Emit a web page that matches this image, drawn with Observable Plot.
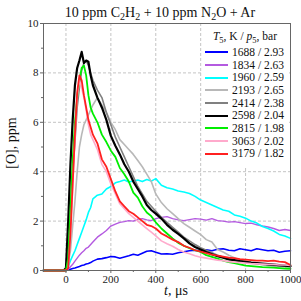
<!DOCTYPE html>
<html><head><meta charset="utf-8">
<script src="https://cdn.jsdelivr.net/npm/d3@7"></script>
<script src="https://cdn.jsdelivr.net/npm/@observablehq/plot@0.6"></script>
<style>
body{margin:0;background:#fff;}
#wrap{position:relative;width:301px;height:301px;font-family:"Liberation Serif","Times New Roman",serif;color:#111;overflow:hidden;}
#wrap svg{position:absolute;left:0;top:0;}
.ov{position:absolute;white-space:nowrap;}
.sb{font-size:10px;position:relative;top:3px;}
#title{left:40px;width:240px;top:6px;text-align:center;font-size:14px;line-height:14px;}
#ylab{left:12px;top:143px;font-size:14px;line-height:14px;transform:translate(-50%,-50%) rotate(-90deg);}
#xlab{left:176px;top:284px;font-size:14px;line-height:14px;transform:translateX(-50%);}
#leg{left:202px;top:24px;width:87px;height:142px;background:#fff;}
.lh{position:absolute;right:12px;font-size:11.5px;line-height:12px;}
.lr{position:absolute;left:3px;height:12px;font-size:11.5px;line-height:12px;}
.sw{display:inline-block;width:23px;height:0;vertical-align:middle;margin-right:4px;position:relative;top:-1px;}
</style></head>
<body><div id="wrap"></div>
<script>
// ---- data ----
const times = [-100,-50,-10,0,10,20,30,40,50,60,70,80,90,100,110,120,140,160,180,200,220,240,260,280,300,320,340,360,380,400,425,450,475,500,525,550,575,600,625,650,675,700,725,750,775,800,825,850,875,900,925,950,975,1000];
const seriesLabels = ["1688 / 2.93","1834 / 2.63","1960 / 2.59","2193 / 2.65","2414 / 2.38","2598 / 2.04","2815 / 1.98","3063 / 2.02","3179 / 1.82"];
const s1688 = [0,0,0,0,0.02,0.05,0.08,0.1,0.13,0.16,0.2,0.22,0.26,0.28,0.32,0.38,0.46,0.48,0.52,0.57,0.55,0.5,0.55,0.6,0.66,0.62,0.7,0.78,0.8,0.74,0.67,0.68,0.66,0.72,0.76,0.8,0.82,0.8,0.84,0.8,0.86,0.88,0.82,0.8,0.88,0.84,0.8,0.88,0.84,0.8,0.82,0.74,0.78,0.8];
const s1834 = [0,0,0,0,0.05,0.15,0.25,0.38,0.5,0.62,0.72,0.8,0.9,0.95,1.05,1.15,1.35,1.48,1.62,1.8,1.88,1.95,1.98,2.02,2.0,2.08,2.1,2.05,2.02,2.1,2.15,2.18,2.1,2.05,2.02,2.06,2.1,2.08,2.04,2.1,2.02,2.0,1.96,1.98,1.94,1.9,1.92,1.85,1.8,1.76,1.7,1.62,1.66,1.62];
const s1960 = [0,0,0,0,0.15,0.4,0.6,0.8,1.05,1.3,1.55,1.8,2.05,2.35,2.55,2.9,3.05,3.1,3.3,3.4,3.55,3.6,3.66,3.58,3.62,3.66,3.6,3.68,3.62,3.72,3.45,3.35,3.3,3.22,3.18,3.12,3.0,2.85,2.75,2.65,2.55,2.45,2.4,2.25,2.2,2.12,2.0,1.92,1.78,1.7,1.6,1.46,1.4,1.3];
const s2193 = [0,0,0,0,0.3,0.8,1.8,2.8,4.0,5.0,5.5,5.9,6.1,6.3,6.5,6.7,7.0,6.7,6.4,6.0,5.7,5.3,5.1,4.9,4.7,4.45,4.2,3.9,3.6,3.1,2.75,2.5,2.3,2.1,1.9,1.75,1.6,1.45,1.25,1.15,0.85,0.75,0.62,0.52,0.42,0.38,0.32,0.28,0.22,0.2,0.18,0.16,0.15,0.14];
const s2414 = [0,0,0,0,0.8,2.5,4.0,5.2,6.6,7.4,8.1,8.4,8.5,8.3,8.0,7.7,7.3,7.0,6.4,5.9,5.4,5.0,4.6,4.2,3.8,3.4,3.1,2.8,2.6,2.4,2.15,1.95,1.75,1.55,1.35,1.2,1.05,0.92,0.82,0.72,0.62,0.55,0.48,0.42,0.38,0.34,0.3,0.28,0.25,0.22,0.2,0.18,0.17,0.16];
const s2598 = [0,0,0,0.1,2.0,4.3,6.1,7.5,8.2,8.5,8.85,8.4,8.5,8.45,7.9,7.5,7.0,6.6,6.1,5.45,5.05,4.7,4.3,4.0,3.6,3.3,3.0,2.65,2.45,2.3,2.1,1.85,1.65,1.48,1.3,1.1,0.95,0.85,0.75,0.66,0.58,0.52,0.45,0.42,0.38,0.35,0.32,0.3,0.28,0.26,0.24,0.22,0.2,0.18];
const s2815 = [0,0,0,0,0.5,2.5,4.5,6.0,7.0,7.7,8.2,8.3,7.9,7.1,6.6,6.35,6.0,5.5,5.2,4.85,4.6,4.15,3.9,3.6,3.15,2.95,2.6,2.35,2.2,1.95,1.7,1.5,1.3,1.12,1.0,0.9,0.82,0.75,0.62,0.55,0.48,0.4,0.34,0.3,0.25,0.2,0.18,0.16,0.14,0.13,0.12,0.1,0.08,0.07];
const s3063 = [0,0,0,0,0.1,1.4,3.4,5.4,7.0,7.7,7.4,7.0,6.5,5.9,5.5,5.3,4.9,4.3,4.0,3.5,3.1,2.7,2.5,2.3,2.15,2.0,1.85,1.7,1.55,1.4,1.2,1.08,0.98,0.85,0.75,0.68,0.6,0.54,0.5,0.46,0.42,0.4,0.36,0.34,0.32,0.3,0.28,0.27,0.26,0.25,0.24,0.22,0.22,0.2];
const s3179 = [0,0,0,0,0.1,1.5,3.5,5.5,7.2,7.9,7.7,7.1,6.6,6.1,5.8,5.5,5.15,4.5,4.2,3.7,3.2,2.8,2.6,2.4,2.3,2.15,2.0,1.85,1.8,1.7,1.5,1.38,1.25,1.15,1.0,0.92,0.82,0.76,0.7,0.64,0.6,0.56,0.52,0.5,0.46,0.44,0.42,0.4,0.4,0.38,0.4,0.36,0.34,0.22];
const seriesValues = [s1688,s1834,s1960,s2193,s2414,s2598,s2815,s3063,s3179];
const seriesColors = ["#0000ff","#b45ae0","#00ffff","#b8b8b8","#808080","#000000","#00ee00","#ffaacc","#ff2020"];
const seriesWidths = [1.6,1.4,1.6,1.6,1.6,2.2,1.8,1.6,1.8];
const xMajor = [0,200,400,600,800,1000];
const xMinor = [-100,100,300,500,700,900];
const yMajor = [0,2,4,6,8,10];
const yMinor = [1,3,5,7,9];

// ---- chart ----
const lineMarks = seriesValues.map((vals,i) =>
  Plot.line(times.map((t,j)=>({t, v: vals[j]})), {x:"t", y:"v", stroke: seriesColors[i], strokeWidth: seriesWidths[i], strokeLinejoin:"round"}));

const chart = Plot.plot({
  width:301, height:301,
  marginLeft:43, marginRight:11, marginTop:23, marginBottom:31,
  style:{fontFamily:"'Liberation Serif','Times New Roman',serif", fontSize:"11px", background:"transparent", color:"#222"},
  x:{domain:[-100,1000], label:null},
  y:{domain:[0,10], label:null},
  marks:[
    Plot.gridX(xMajor,{stroke:"#c4c4c4", strokeOpacity:1, strokeDasharray:"3,2"}),
    Plot.gridY(yMajor,{stroke:"#c4c4c4", strokeOpacity:1, strokeDasharray:"3,2"}),
    ...lineMarks,
    Plot.frame({stroke:"#666"}),
    Plot.axisX(xMajor,{tickSize:3, tickPadding:2, stroke:"#666", label:null, tickFormat:d=>String(d)}),
    Plot.axisX(xMinor,{tickSize:2, text:null, stroke:"#666", label:null}),
    Plot.axisY(yMajor,{tickSize:3, tickPadding:2, stroke:"#666", label:null, tickFormat:d=>String(d)}),
    Plot.axisY(yMinor,{tickSize:2, text:null, stroke:"#666", label:null})
  ]
});
const wrap = document.getElementById("wrap");
wrap.appendChild(chart);

function add(id, html){const d=document.createElement("div");d.className="ov";d.id=id;d.innerHTML=html;wrap.appendChild(d);return d;}
add("title","10 ppm C<span class='sb'>2</span>H<span class='sb'>2</span> + 10 ppm N<span class='sb'>2</span>O + Ar");
add("ylab","[O], ppm");
add("xlab","<i>t</i>, μs");
const leg = add("leg","");
const h = document.createElement("div"); h.className="lh"; h.style.top="6px";
h.innerHTML="<i>T</i><span class='sb' style='font-size:8.5px'>5</span>, K / <i>p</i><span class='sb' style='font-size:8.5px'>5</span>, bar";
leg.appendChild(h);
seriesLabels.forEach((lab,i)=>{
  const r=document.createElement("div"); r.className="lr"; r.style.top=(22+i*12.67)+"px";
  r.innerHTML="<span class='sw' style='border-top:2px solid "+seriesColors[i]+"'></span>"+lab;
  leg.appendChild(r);
});
</script></body></html>
